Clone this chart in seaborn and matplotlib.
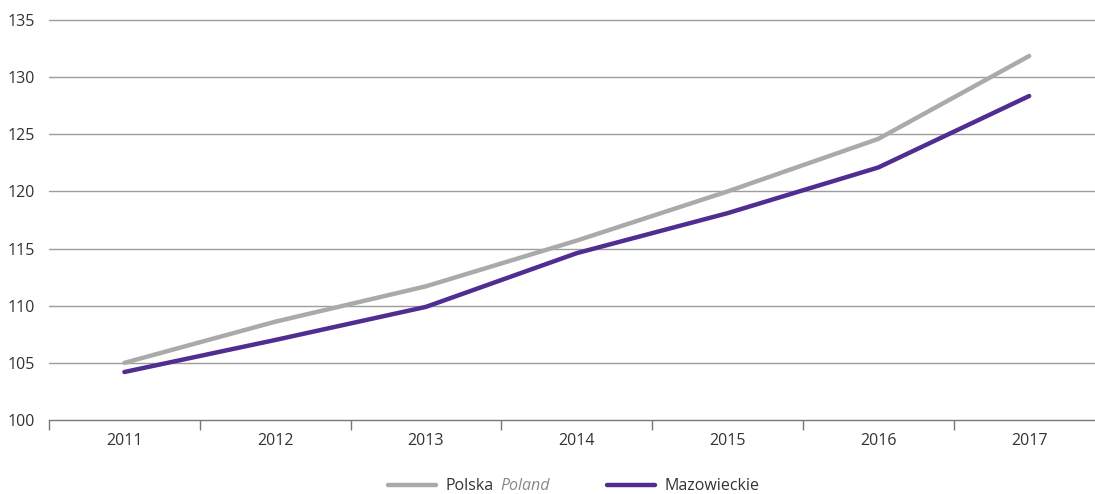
import matplotlib
matplotlib.use('Agg')
import matplotlib.pyplot as plt
import seaborn as sns
import pandas as pd

# data
years = [2011, 2012, 2013, 2014, 2015, 2016, 2017]
polska = [105.0, 108.6, 111.7, 115.7, 120.0, 124.6, 131.85]
mazowieckie = [104.2, 107.0, 109.9, 114.6, 118.1, 122.1, 128.35]
y_ticks = [100, 105, 110, 115, 120, 125, 130, 135]

df = pd.DataFrame({
    'rok': years * 2,
    'wartosc': polska + mazowieckie,
    'seria': ['Polska'] * len(years) + ['Mazowieckie'] * len(years),
})

sns.set_style('white')
plt.rcParams['font.family'] = ['Open Sans', 'DejaVu Sans']

fig = plt.figure(figsize=(10.95, 4.94), dpi=100)
ax = fig.add_axes([49 / 1095, 1 - 420 / 494, 1 - 49 / 1095, 400 / 494])

palette = {'Polska': '#aaaaaa', 'Mazowieckie': '#4f2d91'}
sns.lineplot(data=df, x='rok', y='wartosc', hue='seria', palette=palette,
             linewidth=3.2, ax=ax, solid_capstyle='round', legend=False)

ax.set_yticks(y_ticks)
ax.set_xticks(years)
ax.set_xticklabels([str(y) for y in years])
ax.set_xticks([y - 0.5 for y in years] + [years[-1] + 0.5], minor=True)
# limits after the ticks, otherwise set_xticks widens the view
ax.set_ylim(100, 135)
ax.set_xlim(years[0] - 0.5, years[0] - 0.5 + 1046 / 150.8)
ax.tick_params(axis='x', which='major', bottom=False, length=0, pad=9, labelsize=11.5, labelcolor='#333333')
ax.tick_params(axis='x', which='minor', bottom=True, length=7, width=1, color='#777777')
ax.tick_params(axis='y', left=False, length=0, pad=10, labelsize=11.5, labelcolor='#333333')
ax.set_xlabel('')
ax.set_ylabel('')
for g in y_ticks[1:]:
    ax.axhline(g, color='#9d9d9d', lw=1, zorder=0, clip_on=False)
for s in ['top', 'right', 'left']:
    ax.spines[s].set_visible(False)
ax.spines['bottom'].set_color('#777777')
ax.spines['bottom'].set_linewidth(1)

handles = [plt.Line2D([], [], color=palette['Polska'], lw=3.2, solid_capstyle='round'),
           plt.Line2D([], [], color=palette['Mazowieckie'], lw=3.2, solid_capstyle='round')]
leg = fig.legend(handles, ['Polska', 'Mazowieckie'], loc='lower center', ncol=2,
                 bbox_to_anchor=(0.524, -0.03), frameon=False, fontsize=11.5,
                 handlelength=3.0, handletextpad=0.6, columnspacing=7.1)
for t in leg.get_texts():
    t.set_color('#333333')

# italic English name after "Polska"
fig.canvas.draw()
bb = leg.get_texts()[0].get_window_extent()
fig.text((bb.x1 + 7) / fig.bbox.width, bb.y0 / fig.bbox.height, 'Poland',
         fontsize=11.5, style='italic', color='#888888', va='bottom', ha='left')

fig.savefig('out.png', dpi=100)
